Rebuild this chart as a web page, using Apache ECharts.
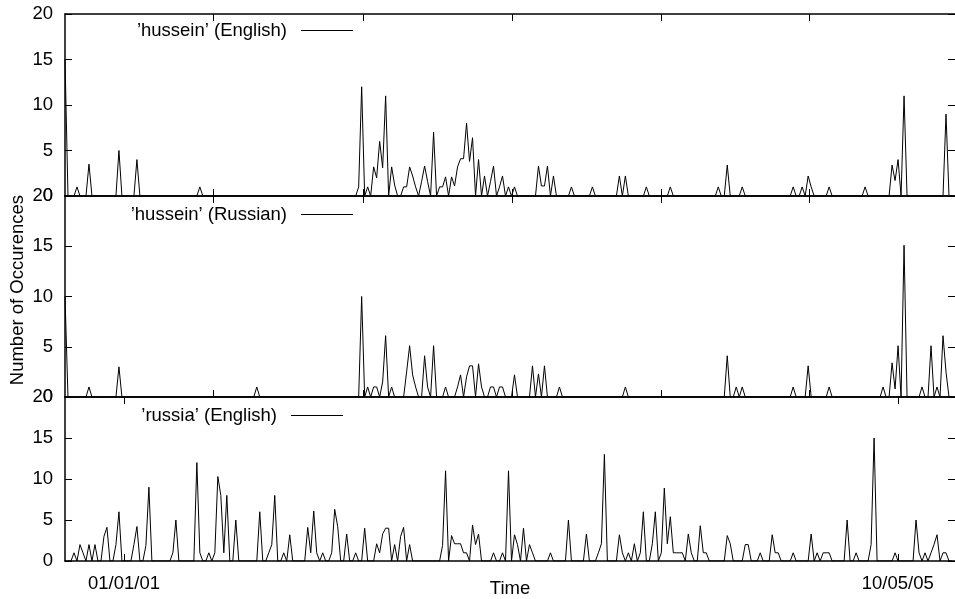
<!DOCTYPE html>
<html>
<head>
    <meta charset="utf-8">
    <title>Occurences</title>
    <script src="https://cdn.jsdelivr.net/npm/echarts@6/dist/echarts.min.js"></script>
</head>
<body style="margin:0">
    <div id="main" style="width:955px;height:599px;"></div>
    <script type="text/javascript">
// weekly samples, index 0 = left edge of the plots
var weekCount = 297;
var labelWeeks = [19.7, 277.9];          // where the two dates sit
var tickLabels = ['01/01/01', '10/05/05'];
var panelTickWeeks = [49.4, 99.4, 149.2, 198.9, 248.3];

var names = ['\u2019hussein\u2019 (English)', '\u2019hussein\u2019 (Russian)', '\u2019russia\u2019 (English)'];

// [week, count] for every week that is not zero
var husseinEnglish = [[0,15],[4,1],[8,3.5],[18,5],[24,4],[45,1],
    [98,1],[99,12],[101,1],[103,3.2],[104,2],[105,6],[106,3.1],[107,11],[109,3.2],[110,1.2],
    [113,1],[114,1],[115,3.2],[116,2.2],[117,1],[119,1.6],[120,3.3],[121,1.6],[123,7],[125,1],[126,1],[127,2.1],
    [129,2.1],[130,1.1],[131,3.2],[132,4.1],[133,4.1],[134,8],[135,3.8],[136,6.4],[138,4],[140,2.2],[142,1.6],
    [143,3.3],[145,1],[146,2.2],[148,1],[150,1],
    [158,3.3],[159,1.1],[160,1.1],[161,3.3],[163,2.2],[169,1],[176,1],[185,2.2],[187,2.2],
    [194,1],[202,1],[218,1],[221,3.4],[226,1],[243,1],[246,1],[248,2.2],[249,1],[255,1],[267,1],
    [276,3.4],[277,1.7],[278,4],[280,11],[294,9]];

var husseinRussian = [[0,10],[8,1],[18,3],[64,1],
    [99,10],[101,1],[103,1],[104,1],[106,1.5],[107,6.1],[109,1],
    [114,2.5],[115,5.1],[116,2.2],[117,1],[120,4.1],[121,1],[123,5.1],[127,1],
    [131,1],[132,2.2],[134,2],[135,3.1],[136,3.1],[138,3.3],[139,1],[142,1],[143,1],[145,1],[146,1],[150,2.2],
    [156,3.1],[158,2.3],[160,3.1],[165,1],[187,1],
    [221,4.1],[224,1],[226,1],[243,1],[248,3.1],[255,1],[273,1],[276,3.4],[277,0.8],[278,5.1],[280,15.1],
    [286,1],[289,5.1],[291,1],[293,6.1],[294,2.5]];

var russiaEnglish = [[3,1],[5,2],[6,1],[8,2],[10,2],[13,3],[14,4.1],[17,2],[18,6],[23,2],[24,4.2],[27,1.9],[28,9],[36,1],[37,5],
    [44,12],[45,1],[48,1],[50,1],[51,10.3],[52,8],[53,1],[54,8],[57,5],
    [65,6],[68,1],[69,2],[70,8],[73,1],[75,3.2],
    [81,4.1],[82,1],[83,6.1],[84,1],[86,1],[89,1],[90,6.3],[91,4.2],[94,3.3],[97,1],[100,4],
    [104,2.1],[105,1],[106,3.3],[107,4],[108,4],[110,2],[112,3],[113,4.1],[115,2],
    [126,1.9],[127,11],[129,3.1],[130,2.1],[131,2.1],[132,2.1],[133,1],[134,1],[136,4.4],[137,2],[138,3.3],
    [143,1],[146,1],[148,11],[150,3.2],[151,2],[153,4],[155,2],[156,1],
    [162,1],[168,5],[174,3.3],[178,1],[179,2.1],[180,13],[185,3.2],[186,1],[188,1],
    [190,2.1],[192,1],[193,6],[196,2.1],[197,6],[199,1],[200,8.9],[201,2.1],[202,5.4],[203,1],[204,1],[205,1],[206,1],
    [208,3.3],[209,1],[212,4.3],[213,1],[214,1],
    [221,3.1],[222,2.1],[227,2],[228,2],[232,1],[236,3.2],[237,1],[238,1],[243,1],[249,3.3],[251,1],[253,1],[254,1],[255,1],
    [261,5],[264,1],[269,2],[270,15],[277,1],[284,5],[285,1],[287,1],[289,1],[290,2],[291,3.2],[293,1],[294,1]];

var panels = [husseinEnglish, husseinRussian, russiaEnglish];

function weekly(pairs) {
    var v = new Array(weekCount).fill(0);
    pairs.forEach(function (p) { v[p[0]] = p[1]; });
    return v.map(function (n, i) { return [i, n]; });
}

var font = 'Liberation Sans, Arial, sans-serif';
var fs = 18.5;
var grids = [
    {left: 65, top: 14, width: 890, height: 182},
    {left: 65, top: 196, width: 890, height: 201},
    {left: 65, top: 397, width: 890, height: 164}
];
grids.forEach(function (g) { g.outerBoundsMode = 'none'; g.containLabel = false; });
var legendPos = [{right: 602, top: 21}, {right: 602, top: 205}, {right: 612, top: 406}];

var xAxes = [], yAxes = [], series = [], legends = [];
grids.forEach(function (g, k) {
    var last = k === 2;
    var ticks = last ? labelWeeks : panelTickWeeks;
    ['bottom', 'top'].forEach(function (pos) {
        xAxes.push({
            gridIndex: k, type: 'value', min: 0, max: weekCount, position: pos,
            axisLine: {onZero: false, lineStyle: {color: '#000', width: 1.5}},
            // negative length turns the ticks into the plot, like gnuplot
            axisTick: {inside: false, length: -7, customValues: ticks, lineStyle: {color: '#000'}},
            axisLabel: {show: last && pos === 'bottom', customValues: labelWeeks, margin: 13,
                color: '#000', fontSize: fs, fontFamily: font,
                formatter: function (v) { return tickLabels[labelWeeks.indexOf(v)]; }},
            splitLine: {show: false},
            name: last && pos === 'bottom' ? 'Time' : '',
            nameLocation: 'middle', nameGap: 18, nameMoveOverlap: false,
            nameTextStyle: {color: '#000', fontSize: fs, fontFamily: font}
        });
    });
    ['left', 'right'].forEach(function (pos) {
        yAxes.push({
            gridIndex: k, type: 'value', min: 0, max: 20, interval: 5, position: pos,
            axisLine: {show: pos === 'left', onZero: false, lineStyle: {color: '#000', width: 1.5}},
            axisTick: {show: true, inside: false, length: -7, lineStyle: {color: '#000'}},
            axisLabel: {show: pos === 'left', margin: 12, color: '#000', fontSize: fs, fontFamily: font},
            splitLine: {show: false}
        });
    });
    series.push({
        name: names[k], type: 'line', xAxisIndex: k * 2, yAxisIndex: k * 2,
        data: weekly(panels[k]), symbol: 'none', sampling: 'none',
        lineStyle: {color: '#000', width: 1}, itemStyle: {color: '#000'}
    });
    legends.push({
        data: [names[k]], right: legendPos[k].right, top: legendPos[k].top,
        align: 'right', icon: 'rect', itemWidth: 52, itemHeight: 1, padding: 0,
        selectedMode: false,
        textStyle: {color: '#000', fontSize: fs, fontFamily: font, padding: [0, 9, 0, 0]}
    });
});

var myChart = echarts.init(document.getElementById('main'));
var option = {
    animation: false,
    backgroundColor: '#fff',
    grid: grids,
    xAxis: xAxes,
    yAxis: yAxes,
    legend: legends,
    series: series,
    graphic: [{
        type: 'text', left: 8, top: 195, rotation: Math.PI / 2,
        style: {text: 'Number of Occurences', fill: '#000', font: fs + 'px ' + font}
    }]
};
myChart.setOption(option);
    </script>
</body>
</html>
